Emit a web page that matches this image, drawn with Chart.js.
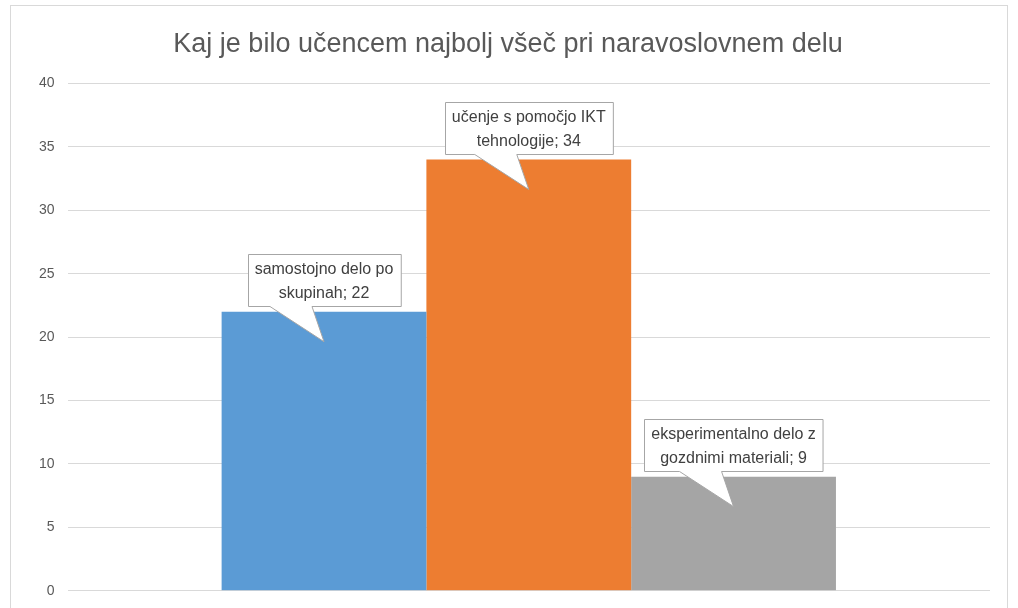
<!DOCTYPE html>
<html>
<head>
<meta charset="utf-8">
<script src="https://cdn.jsdelivr.net/npm/chart.js@4"></script>
<style>
  html, body { margin: 0; padding: 0; background: #fff; }
  #wrap { width: 1018px; height: 608px; position: relative; }
</style>
</head>
<body>
<div id="wrap"><canvas id="chart" width="1018" height="608"></canvas></div>
<script>
// Podatki
const categories = ['samostojno delo po skupinah', 'učenje s pomočjo IKT tehnologije', 'eksperimentalno delo z gozdnimi materiali'];
const values = [22, 34, 9];
const colors = ['#5B9BD5', '#ED7D31', '#A5A5A5'];
// prelom besedila v oblačkih (kot na sliki)
const calloutLines = [
  ['samostojno delo po', 'skupinah; 22'],
  ['učenje s pomočjo IKT', 'tehnologije; 34'],
  ['eksperimentalno delo z', 'gozdnimi materiali; 9'],
];
const yTicks = { min: 0, max: 40, step: 5 };

const FONT = '"Liberation Sans", sans-serif';

// okvir okoli grafa
const frame = {
  id: 'frame',
  beforeDraw(chart) {
    const c = chart.ctx;
    c.save();
    c.strokeStyle = '#d9d9d9';
    c.lineWidth = 1;
    c.strokeRect(10.5, 5.5, 997, 640);
    c.restore();
  }
};

// oblački z oznakami podatkov
const callouts = {
  id: 'callouts',
  afterDatasetsDraw(chart) {
    const c = chart.ctx;
    c.save();
    c.font = '16px ' + FONT;
    chart.data.datasets.forEach((ds, i) => {
      const bar = chart.getDatasetMeta(i).data[0];
      const lines = calloutLines[i];
      const w = Math.max(...lines.map(l => c.measureText(l).width)) + 14;
      const h = 52;
      const cx = bar.x;
      const bottom = bar.y - 6;
      const left = Math.round(cx - w / 2) + 0.5;
      const top = Math.round(bottom - h) + 0.5;
      const tipX = cx, tipY = bar.y + 30;
      c.beginPath();
      c.moveTo(left, top);
      c.lineTo(left + w, top);
      c.lineTo(left + w, top + h);
      c.lineTo(cx - 12, top + h);
      c.lineTo(tipX, tipY);
      c.lineTo(cx - 54, top + h);
      c.lineTo(left, top + h);
      c.closePath();
      c.fillStyle = '#ffffff';
      c.fill();
      c.strokeStyle = '#a6a6a6';
      c.lineWidth = 1;
      c.stroke();
      c.fillStyle = '#404040';
      c.textAlign = 'center';
      c.textBaseline = 'middle';
      c.fillText(lines[0], cx, top + 15);
      c.fillText(lines[1], cx, top + 39);
    });
    c.restore();
  }
};

new Chart(document.getElementById('chart').getContext('2d'), {
  type: 'bar',
  data: {
    labels: [''],
    datasets: categories.map((name, i) => ({
      label: name,
      data: [values[i]],
      backgroundColor: colors[i],
      borderWidth: 0,
      categoryPercentage: 0.666,
      barPercentage: 1.0,
    })),
  },
  options: {
    responsive: false,
    animation: false,
    layout: { padding: { left: 26, right: 28, top: 14, bottom: 5 } },
    plugins: {
      legend: { display: false },
      tooltip: { enabled: false },
      title: {
        display: true,
        text: 'Kaj je bilo učencem najbolj všeč pri naravoslovnem delu',
        color: '#595959',
        font: { family: FONT, size: 27, weight: 'normal' },
        padding: { top: 14, bottom: 23 },
      },
    },
    scales: {
      x: {
        display: false,
      },
      y: {
        min: yTicks.min,
        max: yTicks.max,
        ticks: {
          stepSize: yTicks.step,
          color: '#595959',
          font: { family: FONT, size: 14, lineHeight: 0.6 },
          padding: 13,
        },
        grid: { color: '#d9d9d9', lineWidth: 1, drawTicks: false },
        border: { display: false },
      },
    },
  },
  plugins: [frame, callouts],
});
</script>
</body>
</html>
